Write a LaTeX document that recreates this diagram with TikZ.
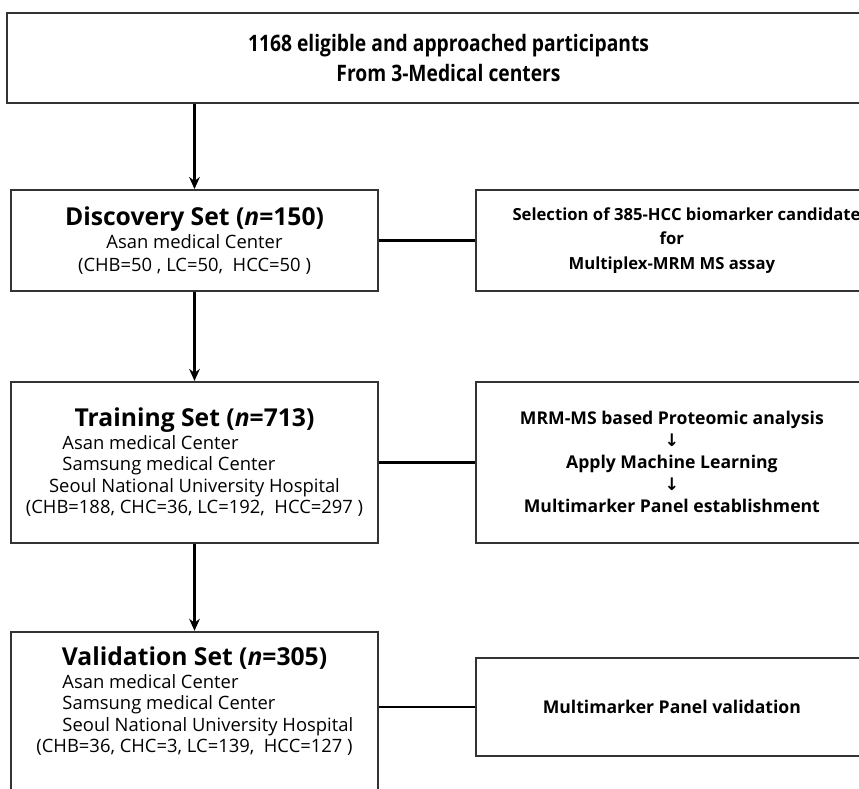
\documentclass[tikz,border=0pt]{standalone}
\usepackage{fontspec}
\setmainfont{Open Sans}
\newfontfamily\narrowfont[FakeStretch=0.85]{Open Sans}
\newfontfamily\arrowfont{DejaVu Sans}
\usetikzlibrary{arrows.meta,positioning,calc}

\newlength\sitew
\newcommand\measuresites{\settowidth\sitew{Seoul National University Hospital}\global\sitew=\sitew}
\newcommand\siteline[2][0pt]{\makebox[\sitew][l]{\hspace{#1}#2}}
\newcommand\settitle[2]{{\fontsize{18.5}{20}\selectfont\bfseries #1 (\textit{n}=#2)}}
\newcommand\downmark{{\arrowfont\fontsize{13}{13}\selectfont\char"2193}}

\begin{document}
\begin{tikzpicture}[
x=0.75pt,y=-0.75pt,
node distance=66.75pt and 72pt,
box/.style={rectangle,draw=black!80,line width=1.4pt,align=center,inner sep=0pt},
setbox/.style={box,minimum width=275.25pt},
stepbox/.style={box,minimum width=294pt,font=\fontsize{13.2}{16.5}\selectfont\bfseries},
sub/.style={font=\fontsize{13.8}{16}\selectfont},
arr/.style={-{Stealth[length=9pt,width=8pt]},line width=1.6pt},
link/.style={line width=1.8pt}
]
\useasboundingbox (0,0) rectangle (859,788);

% left column
\node[box,minimum width=662.25pt,minimum height=67.5pt,font=\narrowfont\fontsize{17}{22.5}\selectfont\bfseries] (top) at (448.5,58)
  {1168 eligible and approached participants\\From 3-Medical centers};
\node[setbox,sub,minimum height=75.75pt] (disc) at (194.5,240.5)
  {\settitle{Discovery Set}{150}\\[1pt]Asan medical Center\\[1pt](CHB=50 , LC=50,\ \ HCC=50 )};
\node[setbox,sub,minimum height=120.75pt,below=of disc] (train)
  {\settitle{Training Set}{713}\\[1pt]
   \measuresites\siteline[10pt]{Asan medical Center}\\
   \siteline[10pt]{Samsung medical Center}\\
   Seoul National University Hospital\\
   (CHB=188, CHC=36, LC=192,\ \ HCC=297 )};
\node[setbox,minimum height=150pt,below=65.25pt of train] (val) {};
\node[sub,align=center,inner sep=0pt,below=12pt of val.north] (valtext)
  {\settitle{Validation Set}{305}\\[1pt]
   \measuresites\siteline[10pt]{Asan medical Center}\\
   \siteline[10pt]{Samsung medical Center}\\
   \siteline[10pt]{Seoul National University Hospital}\\
   (CHB=36, CHC=3, LC=139,\ \ HCC=127 )};

% right column
\node[stepbox,minimum height=75.75pt,right=of disc,font=\fontsize{12.5}{18.4}\selectfont\bfseries] (select)
  {\hspace*{22pt}Selection of 385-HCC biomarker candidate\\for\\Multiplex-MRM MS assay};
\node[stepbox,minimum height=120.75pt,right=of train] (panel)
  {MRM-MS based Proteomic analysis\\\downmark\\Apply Machine Learning\\\downmark\\Multimarker Panel establishment};
\node[stepbox,minimum height=73.5pt,below right=19.5pt and 72pt of val.north east] (check)
  {Multimarker Panel validation};

\draw[arr] (top.south -| disc.north) -- (disc.north);
\draw[arr] (disc) -- (train);
\draw[arr] (train) -- (val);
\draw[link] (disc) -- (select);
\draw[link] (train) -- (panel);
\draw[link] (check.west) -- (check.west -| val.east);
\end{tikzpicture}
\end{document}
